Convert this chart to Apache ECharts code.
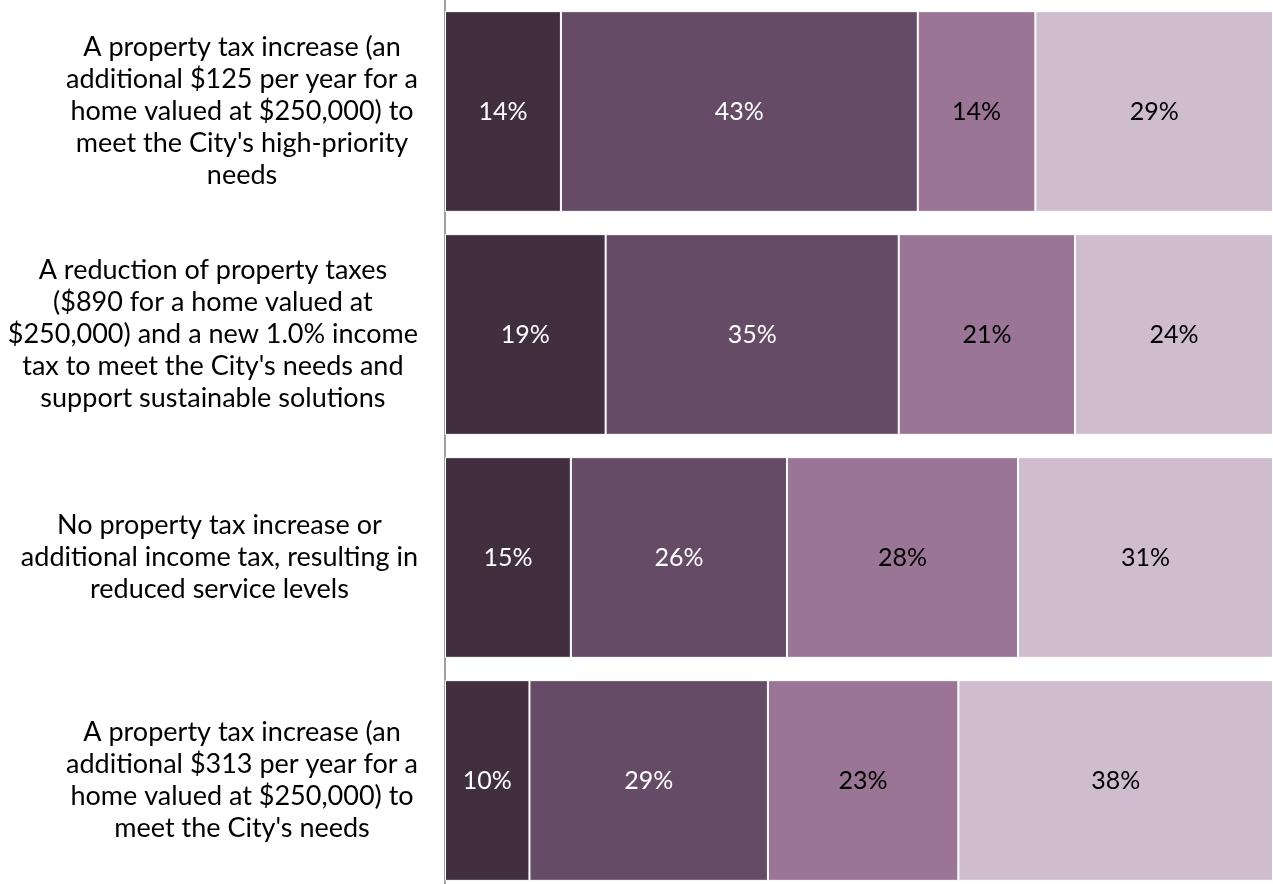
<!DOCTYPE html>
<html>
<head>
<meta charset="utf-8">
<script src="https://cdn.jsdelivr.net/npm/echarts@6/dist/echarts.min.js"></script>
<style>
  html, body { margin: 0; padding: 0; background: #fff; }
  #chart { width: 1273px; height: 884px; }
</style>
</head>
<body>
<div id="chart"></div>
<script>
// categories, top to bottom
const categories = [
  "A property tax increase (an\nadditional $125 per year for a\nhome valued at $250,000) to\nmeet the City's high-priority\nneeds",
  "A reduction of property taxes\n($890 for a home valued at\n$250,000) and a new 1.0% income\ntax to meet the City's needs and\nsupport sustainable solutions",
  "No property tax increase or\nadditional income tax, resulting in\nreduced service levels",
  "A property tax increase (an\nadditional $313 per year for a\nhome valued at $250,000) to\nmeet the City's needs"
];

// share of responses per category (%)
const series1 = [14.0, 19.4, 15.2, 10.2];
const series2 = [43.1, 35.4, 26.1, 28.8];
const series3 = [14.2, 21.3, 27.9, 23.0];
const series4 = [28.7, 23.9, 30.8, 38.0];

const colors = ['#412f40', '#654b65', '#9a7596', '#d0bccf'];
const labelColors = ['#fff', '#fff', '#000', '#000'];

const chart = echarts.init(document.getElementById('chart'));

function makeSeries(data, i) {
  return {
    type: 'bar',
    stack: 'total',
    data: data,
    barCategoryGap: '10%',
    itemStyle: {
      color: colors[i],
      borderColor: '#fff',
      borderWidth: 1
    },
    label: {
      show: true,
      position: 'inside',
      color: labelColors[i],
      fontSize: 25,
      fontFamily: 'Lato',
      formatter: function (p) { return Math.round(p.value) + '%'; }
    }
  };
}

var option = {
  animation: false,
  grid: {
    left: 445,
    right: 0,
    top: 0,
    height: 892,
    outerBoundsMode: 'none'
  },
  xAxis: {
    type: 'value',
    min: 0,
    max: 100,
    show: false
  },
  yAxis: {
    type: 'category',
    inverse: true,
    data: categories,
    axisLine: { show: true, lineStyle: { color: '#a0a0a0', width: 2 } },
    axisTick: { show: false },
    axisLabel: {
      margin: 27,
      align: 'right',
      color: '#000',
      fontSize: 27,
      lineHeight: 32,
      fontFamily: 'Lato',
      // center each line inside the block, block right-aligned to the axis
      formatter: function (v) {
        return v.split('\n').map(function (s) { return '{c|' + s + '}'; }).join('\n');
      },
      rich: {
        c: { align: 'center', fontSize: 27, lineHeight: 32, fontFamily: 'Lato', color: '#000' }
      }
    }
  },
  series: [series1, series2, series3, series4].map(makeSeries)
};

chart.setOption(option);
</script>
</body>
</html>
